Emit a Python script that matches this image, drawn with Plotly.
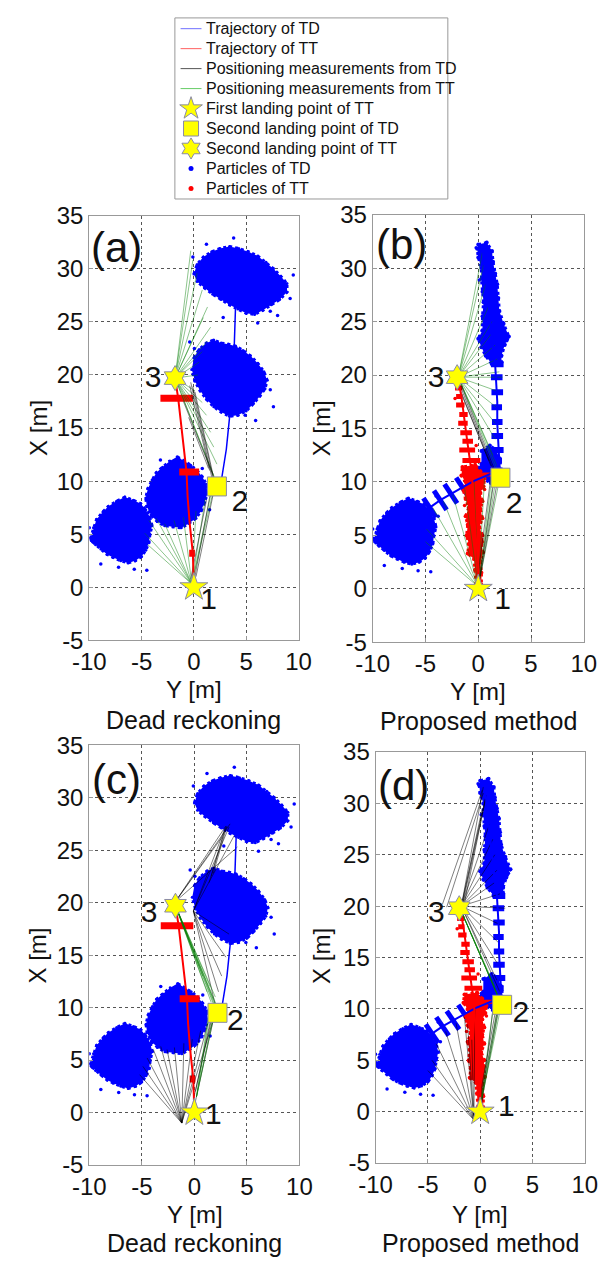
import plotly.graph_objects as go

W, H = 613, 1272
FONT = "Liberation Sans, Arial, sans-serif"
BLUE = "#0000ff"
RED = "#ff0000"
YELLOW = "#ffff00"
EDGE = "#8a8aa6"
GREEN_LINE = "rgba(0,125,0,0.45)"
BLACK_LINE = "rgba(0,0,0,0.5)"

# ---------------- landmarks (lateral Y, longitudinal X) ----------------
LAND1 = (0.0, 0.0)
SQUARE_DR = (2.2, 9.5)
SQUARE_PM = (2.1, 10.4)
STAR3_DR = (-1.8, 19.7)
STAR3_PM = (-2.0, 19.8)
LABEL_TEXT = ["1", "2", "3"]
LABEL_POS_A = [(1.4, -1.3), (4.4, 7.9), (-3.9, 19.6)]
LABEL_POS_B = [(2.3, -1.2), (3.4, 7.8), (-4.0, 19.6)]
LABEL_POS_C = [(1.8, -0.4), (3.9, 8.6), (-4.3, 18.9)]
LABEL_POS_D = [(2.5, 0.3), (3.9, 9.5), (-4.2, 19.2)]

# ---------------- trajectories ----------------
TD_DR_LAT = [1.7, 2.3, 2.6, 2.2, 2.5, 3.1, 3.5, 3.8, 3.9, 4.0]
TD_DR_LON = [8.6, 9.2, 9.6, 9.9, 9.3, 13.0, 16.9, 21.0, 24.5, 27.0]
TT_DR_LAT = [0.0, -0.1, -0.4, -0.6, -0.7, -1.1, -1.5, -1.8]
TT_DR_LON = [0.0, 3.2, 6.0, 8.5, 10.8, 14.5, 17.8, 19.7]
TD_PM_LAT = [-5.6, -4.6, -3.6, -2.6, -1.5, -0.4, 0.6, 1.5, 2.0, 1.9, 1.8, 1.8,
             1.7, 1.6, 1.4, 1.2, 1.0, 0.8, 0.6, 0.4]
TD_PM_LON = [6.8, 7.6, 8.3, 8.9, 9.5, 10.1, 10.5, 10.9, 11.8, 13.5, 15.5, 17.5,
             19.5, 21.0, 22.5, 24.5, 26.5, 28.5, 30.5, 32.0]
TT_PM_LAT = [0.0, 0.0, -0.3, -0.5, -0.6, -1.0, -1.3, -1.6, -1.9]
TT_PM_LON = [0.0, 2.5, 5.5, 8.5, 10.7, 13.5, 16.0, 18.0, 19.6]

# ---------------- TD particle clouds (outline lat, lon) ----------------
CLOUD1_LAT = [-9.9, -9.6, -9.3, -8.7, -8.2, -7.4, -6.6, -5.8, -5.1, -4.6, -4.2, -4.0, -4.2, -4.3,
              -4.6, -5.0, -5.6, -6.3, -7.0, -7.7, -8.3, -8.9, -9.4, -9.7]
CLOUD1_LON = [4.6, 5.6, 6.4, 7.1, 7.6, 8.1, 8.5, 8.2, 7.9, 7.3, 6.6, 5.8, 5.0, 4.2,
              3.5, 2.9, 2.5, 2.3, 2.5, 2.8, 3.1, 3.6, 4.0, 4.3]
CLOUD2_LAT = [-1.6, -1.0, -0.3, 0.3, 0.8, 1.2, 1.3, 1.0, 0.7, 0.2, -0.5, -1.2, -2.0, -2.8,
              -3.5, -4.1, -4.5, -4.6, -4.4, -4.0, -3.6, -3.0, -2.3]
CLOUD2_LON = [12.3, 11.9, 11.5, 11.0, 10.4, 9.7, 8.8, 8.0, 7.2, 6.5, 6.0, 5.6, 5.7, 5.8,
              6.2, 6.8, 7.6, 8.4, 9.3, 10.1, 10.8, 11.3, 11.9]
CLOUD3_LAT = [0.0, 0.5, 1.2, 1.9, 2.6, 3.3, 4.0, 4.7, 5.4, 6.1, 6.7, 7.0, 6.8, 6.3, 5.7, 5.0,
              4.2, 3.4, 2.6, 1.9, 1.2, 0.6, 0.1, -0.2]
CLOUD3_LON = [21.6, 22.4, 23.0, 23.3, 23.0, 22.9, 22.7, 22.3, 21.8, 21.1, 20.3, 19.5, 18.7, 18.0,
              17.3, 16.6, 16.2, 16.1, 16.5, 17.0, 17.7, 18.5, 19.4, 20.5]
CLOUD4_LAT = [0.0, 0.3, 0.9, 1.7, 2.5, 3.4, 4.3, 5.2, 6.1, 6.9, 7.6, 8.3, 8.9, 8.9, 8.2, 7.4,
              6.6, 5.8, 5.0, 4.2, 3.4, 2.6, 1.8, 1.0, 0.3]
CLOUD4_LON = [29.5, 30.4, 31.1, 31.6, 31.9, 32.1, 31.9, 31.6, 31.2, 30.6, 30.0, 29.3, 28.6, 27.8,
              27.1, 26.6, 26.1, 25.7, 25.8, 26.2, 26.6, 27.1, 27.6, 28.2, 28.8]
STRAY_DR_LAT = [3.8, 9.5, -0.1, 7.3, 6.1, 2.8, 8.0, 9.2, 1.2, 4.9, 7.3, 0.05, 7.6, 5.9, -0.4,
                -1.45, -4.2, 0.8, -3.2, 1.5,
                -9.8, -5.7, -4.5, -10.0, -8.9, -7.2, -3.8]
STRAY_DR_LON = [32.9, 29.4, 31.1, 26.0, 24.9, 25.4, 25.6, 27.2, 32.3, 16.2, 18.6, 22.5, 17.0, 15.7, 23.1,
                12.1, 7.9, 11.2, 12.0, 7.3,
                4.4, 1.7, 1.6, 5.6, 2.2, 1.9, 6.8]

# proposed method: upper TD particle band and cluster near the second landing point
TD_BAND_LAT = [0.0, 0.8, 1.3, 1.4, 1.6, 1.8, 1.9, 2.0, 2.4, 2.9, 2.5, 2.2, 2.2, 1.3, 0.7, 0.3, 0.0,
               0.4, 0.4, 0.5, 0.4, 0.3, 0.3, 0.0, -0.1]
TD_BAND_LON = [32.2, 32.4, 31.6, 30.6, 29.5, 28.5, 27.2, 26.0, 24.8, 23.6, 22.8, 21.8, 21.2, 21.0, 21.8,
               22.6, 23.4, 24.2, 25.5, 26.8, 27.8, 29.0, 30.0, 31.0, 31.8]
TD_NEAR2_LAT = [0.3, 1.1, 1.7, 2.0, 2.2, 1.9, 1.2, 0.5, -0.4, -0.2, 0.3]
TD_NEAR2_LON = [12.9, 13.4, 13.0, 12.2, 11.0, 10.1, 9.9, 10.3, 10.6, 11.2, 11.7]
TD_RUNG_LAT = [-4.6, -3.6, -2.6, -1.5, -0.4]
TD_RUNG_LON = [7.6, 8.3, 8.9, 9.5, 10.1]
TD_SMEAR_LAT = [1.8, 1.75, 1.8, 1.75, 1.8, 1.8, 1.8, 1.6]
TD_SMEAR_LON = [21.0, 19.8, 18.4, 17.0, 15.6, 14.3, 13.0, 12.0]
TD_SMEAR_HALF = [0.6, 0.55, 0.55, 0.5, 0.5, 0.55, 0.6, 0.65]
STRAY_PM_LAT = [2.7, 0.1, -0.2, 2.3, -0.5, -4.0]
STRAY_PM_LON = [23.2, 28.9, 31.9, 24.6, 10.8, 8.7]

# ---------------- TT particles ----------------
TT_BAR_LAT0 = [-3.2, -1.4, -0.45]
TT_BAR_LAT1 = [-0.1, 0.5, 0.1]
TT_BAR_LON = [17.8, 10.85, 3.2]
TT_BAND_LAT = [-0.2, -0.3, -0.4, -1.0, -0.9, -1.1, -1.0, -1.2, -0.9, -1.2, -1.4, -1.2, -1.6, -1.5,
               -0.3, 0.2, 0.6, 0.5, 0.2, 0.4, 0.2, 0.4, 0.1, 0.4, 0.3, 0.45, 0.2, 0.3, 0.3]
TT_BAND_LON = [0.4, 1.8, 2.8, 3.3, 4.2, 5.0, 6.0, 6.8, 7.6, 8.4, 9.2, 10.0, 10.6, 11.4,
               11.6, 11.0, 10.3, 9.6, 9.0, 8.2, 7.5, 6.6, 5.8, 5.0, 4.2, 3.4, 2.6, 1.5, 0.4]
TT_SMEAR_LAT0 = [-1.5, -1.8, -1.5, -1.7, -1.9, -1.8, -2.1, -2.1, -2.2, -2.2]
TT_SMEAR_LAT1 = [0.2, -0.3, -0.5, -0.6, -1.0, -1.0, -1.3, -1.5, -1.5, -1.6]
TT_SMEAR_LON = [12.0, 13.0, 13.8, 14.6, 15.5, 16.3, 17.2, 18.0, 18.8, 19.5]
TT_PM_BAR = (-1.4, 2.0, 10.7)
STRAY_TT_LAT = [0.4, -1.3, 0.6, -2.2, -0.2]
STRAY_TT_LON = [4.4, 7.8, 9.3, 17.8, 13.4]

# ---------------- positioning measurements ----------------
A_GREEN_FANS = [
    ((-0.2, 0.3), [(-4.4, 4.0), (-4.7, 5.1), (-4.3, 6.3), (-3.6, 6.5), (-2.8, 6.0), (-1.9, 6.3),
                   (-1.0, 6.6), (0.2, 7.2), (1.1, 8.4), (1.7, 9.1), (2.0, 9.7)]),
    ((-1.8, 19.7), [(-0.3, 31.7), (-0.1, 30.8), (0.3, 29.6), (0.8, 28.0), (1.3, 26.4), (0.9, 25.4),
                    (1.6, 24.5), (1.3, 23.2), (0.8, 22.2), (0.5, 21.2), (0.4, 20.0), (0.1, 18.5),
                    (0.8, 17.4), (1.2, 16.2), (1.6, 14.6), (1.9, 13.2), (2.2, 11.6), (1.9, 10.5), (2.1, 10.0)]),
]
A_BLACK_SEGS = [(-0.3, 19.3, 1.7, 10.4), (-0.1, 18.9, 1.9, 10.0), (0.1, 18.4, 2.0, 9.8),
                (-0.4, 19.0, 1.5, 11.0), (-1.0, 17.5, 1.8, 10.6), (-0.5, 16.0, 1.4, 11.2),
                (0.0, 0.5, 1.6, 9.0), (0.2, 1.0, 2.0, 9.5), (-0.3, 0.8, 1.2, 8.2)]

B_GREEN_FANS = [
    ((0.0, 0.2), [(-5.0, 4.4), (-4.9, 5.6), (-4.3, 7.6), (-3.3, 8.2), (-2.4, 8.8), (-1.3, 9.5),
                  (-0.4, 10.1), (0.6, 10.4), (1.3, 10.6), (1.7, 10.4), (2.0, 10.2), (1.6, 11.4)]),
    ((-1.9, 19.8), [(0.4, 31.5), (0.5, 30.3), (0.7, 28.5), (1.0, 26.5), (1.3, 25.0), (1.2, 23.8),
                    (1.6, 22.8), (1.8, 21.5), (2.0, 20.3), (2.3, 19.8), (1.8, 18.5), (1.7, 17.0),
                    (1.6, 15.5), (1.6, 14.0), (1.4, 12.5), (1.9, 11.2), (2.0, 10.5)]),
]
B_BLACK_SEGS = [(-1.8, 19.2, 1.4, 11.2), (-1.6, 19.0, 1.6, 11.0), (-1.7, 18.6, 1.2, 11.5),
                (-1.5, 18.0, 1.0, 12.0), (0.1, 0.8, 1.5, 10.2), (0.2, 1.2, 1.8, 10.0), (0.0, 1.5, 1.2, 10.5)]

C_GREEN_FANS = [
    ((-1.8, 19.7), [(2.0, 10.3), (1.8, 10.8), (1.5, 12.0), (2.2, 10.0), (1.2, 11.5), (2.0, 11.0),
                    (0.8, 13.0), (1.6, 10.5), (1.9, 10.1), (2.1, 9.8)]),
    ((0.2, 1.5), [(2.0, 9.8), (1.6, 10.2), (1.8, 9.3), (1.4, 9.6)]),
]
C_BLACK_FANS = [
    ((-1.2, -1.0), [(-5.2, 3.6), (-4.9, 4.4), (-4.5, 5.2), (-3.9, 6.0), (-3.2, 6.3), (-2.6, 6.0),
                    (-1.9, 6.2), (-1.0, 6.6), (-0.2, 7.0), (0.6, 7.8), (1.3, 8.6), (2.0, 9.5)]),
    ((-0.1, 19.2), [(2.0, 10.2), (2.3, 11.5), (2.6, 13.0), (3.0, 14.8), (3.3, 17.0),
                    (2.8, 26.8), (3.3, 27.2), (3.8, 26.4)]),
    ((-1.8, 20.1), [(3.0, 27.3), (3.4, 27.5), (2.6, 26.2), (4.1, 25.3)]),
]
C_BLACK_SEGS = [(0.0, 0.6, 2.1, 10.2), (-0.1, 1.2, 1.8, 9.6), (0.1, 2.0, 1.6, 9.1),
                (1.6, 22.5, 3.0, 27.2), (1.8, 22.8, 3.1, 27.3), (1.4, 21.9, 2.9, 27.0)]

D_GREEN_FANS = [
    ((-1.8, 19.5), [(1.8, 11.0), (2.0, 10.5), (1.6, 11.5), (1.4, 12.2), (1.9, 10.8), (1.7, 11.2)]),
    ((0.0, 0.5), [(1.8, 10.0), (2.0, 10.3), (1.6, 9.8), (1.3, 10.5)]),
]
D_BLACK_FANS = [
    ((-0.6, -0.8), [(-5.0, 4.0), (-4.6, 5.0), (-4.2, 6.6), (-3.3, 7.8), (-2.3, 8.6), (-1.5, 9.2),
                    (-0.5, 9.9), (-1.2, 8.5), (-0.8, 7.0)]),
    ((-1.8, 20.0), [(0.3, 31.6), (0.5, 30.5), (0.2, 29.5), (0.9, 28.0), (1.2, 26.5), (1.4, 25.0),
                    (1.6, 23.5), (1.4, 22.3), (1.9, 21.2), (2.4, 19.8), (1.9, 18.2), (1.9, 16.3),
                    (1.6, 14.5), (1.6, 12.8), (1.9, 11.6)]),
]
D_BLACK_SEGS = [(0.0, 0.2, 1.8, 10.3), (-0.2, 0.5, 1.5, 10.0), (0.1, 0.4, 1.2, 9.8), (-0.3, -0.5, 1.7, 10.1),
                (-3.6, 20.2, 0.2, 31.3), (-3.2, 19.9, 0.3, 31.0), (-1.7, 20.1, 0.6, 30.8), (-1.6, 19.8, 0.5, 30.4)]

# ---------------- axis ticks ----------------
Y_TICKS = [-10, -5, 0, 5, 10]
X_TICKS = [-5, 0, 5, 10, 15, 20, 25, 30, 35]

# ---------------- legend ----------------
LEGEND_LABELS = ["Trajectory of TD", "Trajectory of TT", "Positioning measurements from TD",
                 "Positioning measurements from TT", "First landing point of TT",
                 "Second landing point of TD", "Second landing point of TT",
                 "Particles of TD", "Particles of TT"]

# ---------------- panel geometry (px: left, right, top, bottom) ----------------
BOX = {"a": (76, 296, 206, 640), "b": (374, 596, 205, 642),
       "c": (76, 297, 747, 1176), "d": (377, 597, 754, 1174)}
AX = {"a": ("x", "y"), "b": ("x2", "y2"), "c": ("x3", "y3"), "d": ("x4", "y4")}
LEG_L, LEG_R, LEG_T, LEG_B = 166, 453, 4, 189

fig = go.Figure()


def add(key, **kw):
    xa, ya = AX[key]
    kw.setdefault("showlegend", False)
    kw.setdefault("hoverinfo", "skip")
    fig.add_trace(go.Scatter(xaxis=xa, yaxis=ya, **kw))


def poly(key, lat, lon, color, dot=3, edge_dash="dot"):
    # filled particle cloud with a speckled (dotted) rim
    add(key, x=lat, y=lon, mode="lines+markers", fill="toself", fillcolor=color,
        line=dict(color=color, width=3, dash=edge_dash), marker=dict(size=dot, color=color))


def dots(key, lat, lon, color, size=3.5):
    add(key, x=lat, y=lon, mode="markers", marker=dict(size=size, color=color))


def segs(key, seg_list, color, width=1):
    xs, ys = [], []
    for a0, o0, a1, o1 in seg_list:
        xs += [a0, a1, None]
        ys += [o0, o1, None]
    add(key, x=xs, y=ys, mode="lines", line=dict(color=color, width=width))


def fans(key, fan_list, color):
    seg_list = [(org[0], org[1], e[0], e[1]) for org, ends in fan_list for e in ends]
    segs(key, seg_list, color)


def landmarks(key, square, star3, labels):
    add(key, x=[square[0]], y=[square[1]], mode="markers",
        marker=dict(symbol="square", size=19, color=YELLOW, line=dict(color=EDGE, width=1)))
    add(key, x=[star3[0]], y=[star3[1]], mode="markers",
        marker=dict(symbol="hexagram", size=19, color=YELLOW, line=dict(color=EDGE, width=1)))
    add(key, x=[LAND1[0]], y=[LAND1[1]], mode="markers",
        marker=dict(symbol="star", size=21, color=YELLOW, line=dict(color=EDGE, width=1)))
    add(key, x=[p[0] for p in labels], y=[p[1] for p in labels], mode="text", text=LABEL_TEXT,
        textfont=dict(family=FONT, size=30, color="#111"))


# ----- dead reckoning panels (a) and (c) -----
for key in ("a", "c"):
    for lat, lon in ((CLOUD1_LAT, CLOUD1_LON), (CLOUD2_LAT, CLOUD2_LON),
                     (CLOUD3_LAT, CLOUD3_LON), (CLOUD4_LAT, CLOUD4_LON)):
        poly(key, lat, lon, BLUE)
    dots(key, STRAY_DR_LAT, STRAY_DR_LON, BLUE)
    bars = [(a0, o, a1, o) for a0, a1, o in zip(TT_BAR_LAT0, TT_BAR_LAT1, TT_BAR_LON)]
    segs(key, bars, RED, width=7)

fans("a", A_GREEN_FANS, GREEN_LINE)
segs("a", A_BLACK_SEGS, BLACK_LINE)
fans("c", C_BLACK_FANS, BLACK_LINE)
segs("c", C_BLACK_SEGS, BLACK_LINE)
fans("c", C_GREEN_FANS, GREEN_LINE)

for key in ("a", "c"):
    add(key, x=TD_DR_LAT, y=TD_DR_LON, mode="lines", line=dict(color=BLUE, width=1.5))
    add(key, x=TT_DR_LAT, y=TT_DR_LON, mode="lines", line=dict(color=RED, width=2))

# ----- proposed method panels (b) and (d) -----
for key in ("b", "d"):
    poly(key, CLOUD1_LAT, CLOUD1_LON, BLUE)
    dots(key, STRAY_DR_LAT[20:], STRAY_DR_LON[20:], BLUE)
    poly(key, TD_BAND_LAT, TD_BAND_LON, BLUE, dot=4)
    poly(key, TD_NEAR2_LAT, TD_NEAR2_LON, BLUE, dot=4)
    rungs = [(a + 0.6, o - 0.9, a - 0.6, o + 0.9) for a, o in zip(TD_RUNG_LAT, TD_RUNG_LON)]
    segs(key, rungs, BLUE, width=5)
    smears = [(a - h, o, a + h, o) for a, o, h in zip(TD_SMEAR_LAT, TD_SMEAR_LON, TD_SMEAR_HALF)]
    segs(key, smears, BLUE, width=6)
    dots(key, STRAY_PM_LAT, STRAY_PM_LON, BLUE)
    poly(key, TT_BAND_LAT, TT_BAND_LON, RED, dot=4)
    tt_smears = [(a0, o, a1, o) for a0, a1, o in zip(TT_SMEAR_LAT0, TT_SMEAR_LAT1, TT_SMEAR_LON)]
    segs(key, tt_smears, RED, width=5)
    segs(key, [(TT_PM_BAR[0], TT_PM_BAR[2], TT_PM_BAR[1], TT_PM_BAR[2])], RED, width=4)
    dots(key, STRAY_TT_LAT, STRAY_TT_LON, RED)

fans("b", B_GREEN_FANS, GREEN_LINE)
segs("b", B_BLACK_SEGS, BLACK_LINE)
fans("d", D_BLACK_FANS, BLACK_LINE)
segs("d", D_BLACK_SEGS, BLACK_LINE)
fans("d", D_GREEN_FANS, GREEN_LINE)

for key in ("b", "d"):
    add(key, x=TD_PM_LAT, y=TD_PM_LON, mode="lines", line=dict(color=BLUE, width=2))
    add(key, x=TT_PM_LAT, y=TT_PM_LON, mode="lines", line=dict(color=RED, width=2))

landmarks("a", SQUARE_DR, STAR3_DR, LABEL_POS_A)
landmarks("b", SQUARE_PM, STAR3_PM, LABEL_POS_B)
landmarks("c", SQUARE_DR, STAR3_DR, LABEL_POS_C)
landmarks("d", SQUARE_PM, STAR3_PM, LABEL_POS_D)

# ---------------- axes ----------------
layout = dict(width=W, height=H, margin=dict(l=0, r=0, t=0, b=0),
              paper_bgcolor="white", plot_bgcolor="rgba(0,0,0,0)", showlegend=False,
              font=dict(family=FONT, color="#111"))
common = dict(showgrid=True, griddash="dot", gridcolor="#555", gridwidth=1, zeroline=False,
              showline=True, mirror=True, linecolor="#999", linewidth=1,
              ticks="inside", ticklen=4, tickcolor="#999",
              tickfont=dict(family=FONT, size=24, color="#111"), fixedrange=True)
for i, key in enumerate("abcd", start=1):
    l, r, t, b = BOX[key]
    sfx = "" if i == 1 else str(i)
    layout["xaxis" + sfx] = dict(common, domain=[l / W, r / W], range=[-10, 10],
                                 tickvals=Y_TICKS, ticktext=[str(v) for v in Y_TICKS],
                                 anchor="y" + sfx)
    layout["yaxis" + sfx] = dict(common, domain=[1 - b / H, 1 - t / H], range=[-5, 35],
                                 tickvals=X_TICKS, ticktext=[str(v) for v in X_TICKS],
                                 anchor="x" + sfx)

# overlay axis in pixel units covering only the legend box, for the legend keys
layout["xaxis5"] = dict(domain=[LEG_L / W, LEG_R / W], range=[LEG_L, LEG_R], visible=False,
                        fixedrange=True, anchor="y5")
layout["yaxis5"] = dict(domain=[1 - LEG_B / H, 1 - LEG_T / H], range=[LEG_B, LEG_T], visible=False,
                        fixedrange=True, anchor="x5")
fig.update_layout(**layout)

annotations = []
shapes = []


def text(x, y, s, size, angle=0, anchor="center"):
    annotations.append(dict(x=x / W, y=1 - y / H, xref="paper", yref="paper", text=s,
                            showarrow=False, textangle=angle, xanchor=anchor, yanchor="middle",
                            font=dict(family=FONT, size=size, color="#111")))


PANEL_LETTER = {"a": (105, 239), "b": (404, 236), "c": (105, 782), "d": (406, 788)}
Y_TITLE = {"a": (186, 690), "b": (485, 692), "c": (187, 1227), "d": (487, 1227)}
X_TITLE = {"a": (22, 423), "b": (320, 423), "c": (22, 962), "d": (320, 962)}
CAPTION = {"a": (186, 721), "b": (485, 722), "c": (187, 1256), "d": (487, 1256)}
CAPTION_TEXT = {"a": "Dead reckoning", "b": "Proposed method",
                "c": "Dead reckoning", "d": "Proposed method"}
for key in "abcd":
    text(*PANEL_LETTER[key], "(%s)" % key, 42)
    text(*Y_TITLE[key], "Y [m]", 24)
    text(*X_TITLE[key], "X [m]", 24, angle=-90)
    text(*CAPTION[key], CAPTION_TEXT[key], 25)

# legend box
shapes.append(dict(type="rect", xref="paper", yref="paper", x0=LEG_L / W, x1=LEG_R / W,
                   y0=1 - LEG_B / H, y1=1 - LEG_T / H, line=dict(color="#999", width=1),
                   fillcolor="rgba(0,0,0,0)"))
row_y = [15 + 20.4 * i for i in range(len(LEGEND_LABELS))]
key_x0, key_x1, key_c = 172, 194, 183
line_keys = ["#7070ff", "#ff6060", "#555555", "#66cc66"]
for i, c in enumerate(line_keys):
    fig.add_trace(go.Scatter(x=[key_x0, key_x1], y=[row_y[i]] * 2, mode="lines",
                             line=dict(color=c, width=1), xaxis="x5", yaxis="y5",
                             showlegend=False, hoverinfo="skip"))
marker_keys = [("star", 17, YELLOW), ("square", 15, YELLOW), ("hexagram", 16, YELLOW),
               ("circle", 5, BLUE), ("circle", 5, RED)]
for j, (sym, sz, c) in enumerate(marker_keys):
    edge = dict(color=EDGE, width=1) if c == YELLOW else dict(width=0)
    fig.add_trace(go.Scatter(x=[key_c], y=[row_y[4 + j]], mode="markers",
                             marker=dict(symbol=sym, size=sz, color=c, line=edge),
                             xaxis="x5", yaxis="y5", showlegend=False, hoverinfo="skip",
                             cliponaxis=False))
for i, lab in enumerate(LEGEND_LABELS):
    text(197, row_y[i], lab, 16, anchor="left")

fig.update_layout(annotations=annotations, shapes=shapes)
fig.write_html("out.html")
